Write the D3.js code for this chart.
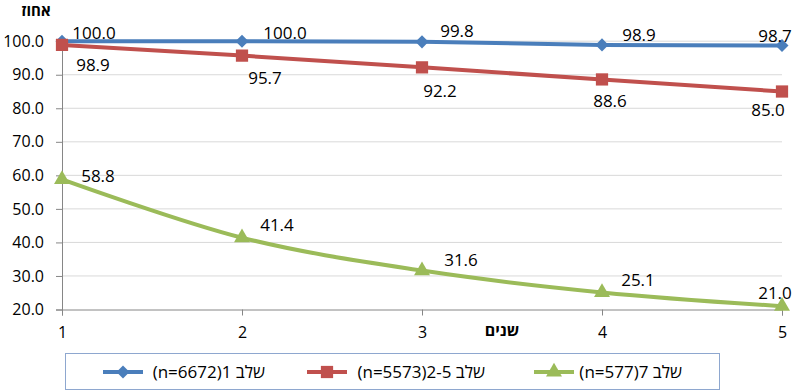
<!DOCTYPE html>
<html>
<head>
<meta charset="utf-8">
<script src="https://cdn.jsdelivr.net/npm/d3@7"></script>
<style>
  body { margin: 0; background: #fff; }
  text { font-family: "Open Sans", sans-serif; fill: #000; }
</style>
</head>
<body>
<svg id="chart" width="800" height="391"></svg>
<script>
const years = [1, 2, 3, 4, 5]
const yTicks = [20, 30, 40, 50, 60, 70, 80, 90, 100]
const stage1 = [100.0, 100.0, 99.8, 98.9, 98.7]
const stage25 = [98.9, 95.7, 92.2, 88.6, 85.0]
const stage7 = [58.8, 41.4, 31.6, 25.1, 21.0]
const seriesNames = ['שלב 1(n=6672)', 'שלב 2-5(n=5573)', 'שלב 7(n=577)']

// label offsets (dx, dy of label centre from the point)
const labelOffsets = [
  [[32, -8], [43, -8], [35, -11], [37, -10], [-7, -10]],
  [[31, 20], [23, 22], [18, 24], [8, 22], [-14, 19]],
  [[36, -3], [35, -13], [39, -11], [36, -12], [-7, -13]]
]

const series = [
  { name: seriesNames[0], values: stage1, color: '#4a7ebb', marker: 'diamond', size: 85, curve: d3.curveLinear },
  { name: seriesNames[1], values: stage25, color: '#c0504d', marker: 'square', size: 150, curve: d3.curveLinear },
  { name: seriesNames[2], values: stage7, color: '#9bbb59', marker: 'triangle', size: 110, curve: d3.curveCardinal.tension(0) }
]

function markerPath(s) {
  const type = s.marker === 'triangle' ? d3.symbolTriangle : d3.symbolSquare
  return d3.symbol().type(type).size(s.size)()
}
function markerRot(s) {
  return s.marker === 'diamond' ? ' rotate(45)' : ''
}

const svg = d3.select('#chart')
const x = d3.scaleLinear().domain([1, 5]).range([62, 782])
const y = d3.scaleLinear().domain([20, 100]).range([309.5, 41.2])

// gridlines
svg.append('g').selectAll('line')
  .data(yTicks.slice(1))
  .enter().append('line')
    .attr('x1', x(1)).attr('x2', x(5))
    .attr('y1', d => y(d)).attr('y2', d => y(d))
    .attr('stroke', '#d9d9d9').attr('stroke-width', 1)

// y axis
const yAxis = svg.append('g')
  .attr('transform', `translate(${x(1)},0)`)
  .call(d3.axisLeft(y).tickValues(yTicks).tickFormat(d3.format('.1f')).tickSize(6).tickPadding(12))
yAxis.select('.domain').attr('stroke', '#868686')
yAxis.selectAll('.tick line').attr('stroke', '#868686')
yAxis.selectAll('.tick text').style('font-size', '16px').style('font-family', '"Open Sans", sans-serif')

// x axis
const xAxis = svg.append('g')
  .attr('transform', `translate(0,${y(20)})`)
  .call(d3.axisBottom(x).tickValues(years).tickFormat(d3.format('d')).tickSize(6).tickPadding(11))
xAxis.select('.domain').attr('stroke', '#868686')
xAxis.selectAll('.tick line').attr('stroke', '#868686')
xAxis.selectAll('.tick text').style('font-size', '16px').style('font-family', '"Open Sans", sans-serif')

// axis titles
svg.append('text').attr('x', 36).attr('y', 16).attr('text-anchor', 'middle')
  .style('font-size', '15px').style('font-weight', 'bold').text('אחוז')
svg.append('text').attr('x', 502).attr('y', 336).attr('text-anchor', 'middle')
  .style('font-size', '16px').style('font-weight', 'bold').text('שנים')

// lines
series.forEach(s => {
  const line = d3.line()
    .x((d, i) => x(years[i]))
    .y(d => y(d))
    .curve(s.curve)
  svg.append('path')
    .datum(s.values)
    .attr('d', line)
    .attr('fill', 'none')
    .attr('stroke', s.color)
    .attr('stroke-width', 4)
    .attr('stroke-linejoin', 'round')
})

// markers and labels
series.forEach((s, si) => {
  svg.append('g').selectAll('path')
    .data(s.values)
    .enter().append('path')
      .attr('transform', (d, i) => `translate(${x(years[i])},${y(d)})` + markerRot(s))
      .attr('d', markerPath(s))
      .attr('fill', s.color)

  svg.append('g').selectAll('text')
    .data(s.values)
    .enter().append('text')
      .attr('x', (d, i) => x(years[i]) + labelOffsets[si][i][0])
      .attr('y', (d, i) => y(d) + labelOffsets[si][i][1])
      .attr('dy', '0.35em')
      .attr('text-anchor', 'middle')
      .style('font-size', '17px')
      .text(d => d3.format('.1f')(d))
})

// legend
svg.append('rect')
  .attr('x', 65.5).attr('y', 353.5).attr('width', 654).attr('height', 36)
  .attr('fill', 'none').attr('stroke', '#8ea7cf').attr('stroke-width', 1)

const legendPos = [
  { lx: 103, rx: 265 },
  { lx: 307, rx: 485 },
  { lx: 534, rx: 682 }
]
series.forEach((s, si) => {
  const p = legendPos[si]
  const g = svg.append('g')
  g.append('line')
    .attr('x1', p.lx).attr('x2', p.lx + 40)
    .attr('y1', 372).attr('y2', 372)
    .attr('stroke', s.color).attr('stroke-width', 4)
  g.append('path')
    .attr('transform', `translate(${p.lx + 20},372)` + markerRot(s))
    .attr('d', markerPath(s))
    .attr('fill', s.color)
  g.append('text')
    .attr('x', p.rx).attr('y', 372)
    .attr('dy', '0.35em')
    .attr('direction', 'rtl')
    .attr('text-anchor', 'start')
    .style('font-size', '17px')
    .text(s.name)
})
</script>
</body>
</html>
